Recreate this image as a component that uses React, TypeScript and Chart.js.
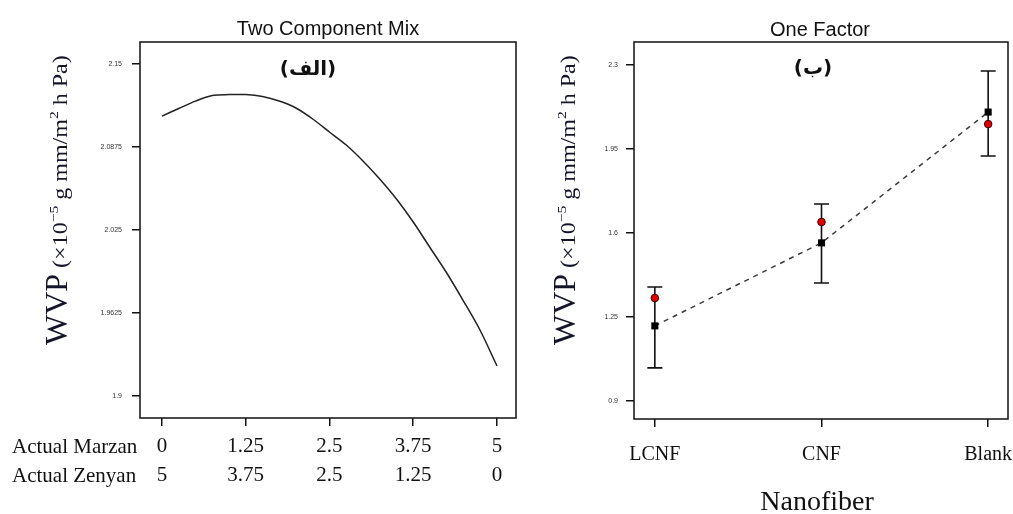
import React, { useEffect, useRef } from 'react';
import { Chart, registerables } from 'chart.js';

Chart.register(...registerables);

// ---------- Left panel: Two Component Mix ----------
const mixTitle = 'Two Component Mix';
const mixTag = '(الف)';
const marzanRowLabel = 'Actual Marzan';
const zenyanRowLabel = 'Actual Zenyan';
const marzanValues = [0, 0.25, 0.5, 0.75, 1, 1.25, 1.5, 1.75, 2, 2.25, 2.5, 2.75, 3, 3.25, 3.5, 3.75, 4, 4.25, 4.5, 4.75, 5];
const wvpMix = [2.1108, 2.1165, 2.1221, 2.1263, 2.1270, 2.1270, 2.1255, 2.1221, 2.1169, 2.1086, 2.0988, 2.0890, 2.0770, 2.0634, 2.0483, 2.0310, 2.0118, 1.9926, 1.9715, 1.9493, 1.9226];
const mixXTicks = [0, 1.25, 2.5, 3.75, 5];
const marzanTickLabels = ['0', '1.25', '2.5', '3.75', '5'];
const zenyanTickLabels = ['5', '3.75', '2.5', '1.25', '0'];
const mixYTicks = [1.9, 1.9625, 2.025, 2.0875, 2.15];
const mixYTickLabels = ['1.9', '1.9625', '2.025', '2.0875', '2.15'];

// ---------- Right panel: One Factor ----------
const factorTitle = 'One Factor';
const factorTag = '(ب)';
const factorXTitle = 'Nanofiber';
const nanofibers = ['LCNF', 'CNF', 'Blank'];
const predictedWvp = [1.212, 1.558, 2.103];
const actualWvp = [1.328, 1.645, 2.053];
const lowerWvp = [1.037, 1.391, 1.920];
const upperWvp = [1.374, 1.720, 2.274];
const factorYTicks = [0.9, 1.25, 1.6, 1.95, 2.3];
const factorYTickLabels = ['0.9', '1.25', '1.6', '1.95', '2.3'];

// y title pieces
const yTitleMain = 'WVP';
const yTitleParts = [' (×10', '−5', ' g mm/m', '2', ' h Pa)'];

const SERIF = '"Liberation Serif", "Times New Roman", serif';
const SANS = '"Liberation Sans", Arial, sans-serif';
const INK = '#111';

function drawYTitle(ctx: CanvasRenderingContext2D, baseX: number, startY: number) {
  const segs = [
    { t: yTitleParts[0], f: `20px ${SERIF}`, dy: 0 },
    { t: yTitleParts[1], f: `13px ${SERIF}`, dy: -9 },
    { t: yTitleParts[2], f: `20px ${SERIF}`, dy: 0 },
    { t: yTitleParts[3], f: `13px ${SERIF}`, dy: -9 },
    { t: yTitleParts[4], f: `20px ${SERIF}`, dy: 0 },
  ];
  ctx.save();
  ctx.translate(baseX, startY);
  ctx.rotate(-Math.PI / 2);
  ctx.fillStyle = '#15152a';
  ctx.textAlign = 'left';
  ctx.textBaseline = 'alphabetic';
  ctx.font = `32px ${SERIF}`;
  ctx.fillText(yTitleMain, 0, 0);
  const mainW = ctx.measureText(yTitleMain).width;
  ctx.translate(mainW, 0);
  ctx.scale(1.2, 1);
  let x = 0;
  for (const s of segs) {
    ctx.font = s.f;
    ctx.fillText(s.t, x, s.dy);
    x += ctx.measureText(s.t).width;
  }
  ctx.restore();
}

function boxAndTitle(ctx: CanvasRenderingContext2D, a: any, title: string, titleX: number, titleY: number, tag: string, tagX: number, tagY: number) {
  ctx.save();
  ctx.strokeStyle = INK;
  ctx.lineWidth = 1.5;
  ctx.strokeRect(a.left, a.top, a.right - a.left, a.bottom - a.top);
  ctx.fillStyle = INK;
  ctx.font = `20px ${SANS}`;
  ctx.textAlign = 'center';
  ctx.textBaseline = 'alphabetic';
  ctx.fillText(title, titleX, titleY);
  ctx.font = `bold 20px "DejaVu Sans", sans-serif`;
  ctx.textBaseline = 'middle';
  ctx.fillText(tag, tagX, tagY);
  ctx.restore();
}

export default function App() {
  const leftRef = useRef<HTMLCanvasElement>(null);
  const rightRef = useRef<HTMLCanvasElement>(null);

  useEffect(() => {
    if (!leftRef.current || !rightRef.current) return;

    const mixDecor = {
      id: 'mixDecor',
      afterDraw(chart: any) {
        const ctx = chart.ctx as CanvasRenderingContext2D;
        const a = chart.chartArea;
        boxAndTitle(ctx, a, mixTitle, 328, 35, mixTag, 308, 70);
        drawYTitle(ctx, 67, 345);
        ctx.save();
        ctx.fillStyle = INK;
        ctx.font = `21px ${SERIF}`;
        ctx.textAlign = 'left';
        ctx.textBaseline = 'alphabetic';
        ctx.fillText(marzanRowLabel, 12, 453);
        ctx.fillText(zenyanRowLabel, 12, 482);
        ctx.restore();
      },
    };

    const left = new Chart(leftRef.current, {
      type: 'scatter',
      data: {
        datasets: [
          {
            data: marzanValues.map((x, i) => ({ x, y: wvpMix[i] })),
            showLine: true,
            borderColor: '#222',
            borderWidth: 1.5,
            pointRadius: 0,
            tension: 0.3,
            fill: false,
          },
        ],
      },
      options: {
        responsive: false,
        animation: false,
        layout: { padding: { left: 0, right: 4, top: 42, bottom: 0 } },
        plugins: { legend: { display: false }, tooltip: { enabled: false }, title: { display: false } },
        scales: {
          x: {
            type: 'linear',
            min: -0.328,
            max: 5.284,
            afterBuildTicks: (s: any) => { s.ticks = mixXTicks.map((v) => ({ value: v })); },
            afterFit: (s: any) => { s.height = 96; s.paddingLeft = 0; s.paddingRight = 0; },
            grid: { drawOnChartArea: false, drawTicks: true, tickLength: 8, color: INK, lineWidth: 1.5 },
            border: { display: false },
            ticks: {
              autoSkip: false,
              maxRotation: 0,
              padding: 6,
              color: INK,
              font: { family: SERIF, size: 21, lineHeight: 1.38 },
              callback: (_v: any, i: number) => [marzanTickLabels[i], zenyanTickLabels[i]],
            },
          },
          y: {
            type: 'linear',
            min: 1.8834,
            max: 2.1666,
            afterBuildTicks: (s: any) => { s.ticks = mixYTicks.map((v) => ({ value: v })); },
            afterFit: (s: any) => { s.width = 140; s.paddingTop = 0; s.paddingBottom = 0; },
            grid: { drawOnChartArea: false, drawTicks: true, tickLength: 8, color: INK, lineWidth: 1.5 },
            border: { display: false },
            ticks: {
              autoSkip: false,
              padding: 10,
              color: '#333',
              font: { family: SANS, size: 7 },
              callback: (_v: any, i: number) => mixYTickLabels[i],
            },
          },
        },
      },
      plugins: [mixDecor],
    } as any);

    const factorDecor = {
      id: 'factorDecor',
      beforeDatasetsDraw(chart: any) {
        const ctx = chart.ctx as CanvasRenderingContext2D;
        const xs = chart.scales.x;
        const ys = chart.scales.y;
        ctx.save();
        ctx.strokeStyle = INK;
        ctx.lineWidth = 1.6;
        nanofibers.forEach((_n, i) => {
          const px = xs.getPixelForValue(i);
          const top = ys.getPixelForValue(upperWvp[i]);
          const bot = ys.getPixelForValue(lowerWvp[i]);
          ctx.beginPath();
          ctx.moveTo(px, top);
          ctx.lineTo(px, bot);
          ctx.moveTo(px - 7.5, top);
          ctx.lineTo(px + 7.5, top);
          ctx.moveTo(px - 7.5, bot);
          ctx.lineTo(px + 7.5, bot);
          ctx.stroke();
        });
        ctx.restore();
      },
      afterDraw(chart: any) {
        const ctx = chart.ctx as CanvasRenderingContext2D;
        const a = chart.chartArea;
        boxAndTitle(ctx, a, factorTitle, 300, 36, factorTag, 293, 69);
        drawYTitle(ctx, 55, 345);
        ctx.save();
        ctx.fillStyle = INK;
        ctx.font = `28px ${SERIF}`;
        ctx.textAlign = 'center';
        ctx.textBaseline = 'alphabetic';
        ctx.fillText(factorXTitle, 297, 510);
        ctx.restore();
      },
    };

    const right = new Chart(rightRef.current, {
      type: 'scatter',
      data: {
        datasets: [
          {
            data: actualWvp.map((y, i) => ({ x: i, y })),
            showLine: false,
            pointStyle: 'circle',
            pointRadius: 3.8,
            pointBackgroundColor: '#e00000',
            pointBorderColor: '#3a0000',
            pointBorderWidth: 1,
          },
          {
            data: predictedWvp.map((y, i) => ({ x: i, y })),
            showLine: true,
            borderColor: '#3a3a3a',
            borderWidth: 1.5,
            borderDash: [5, 5],
            pointStyle: 'rect',
            pointRadius: 5,
            pointBackgroundColor: '#000',
            pointBorderColor: '#000',
            pointBorderWidth: 0,
            fill: false,
          },
        ],
      },
      options: {
        responsive: false,
        animation: false,
        layout: { padding: { left: 0, right: 3, top: 42, bottom: 0 } },
        plugins: { legend: { display: false }, tooltip: { enabled: false }, title: { display: false } },
        scales: {
          x: {
            type: 'linear',
            min: -0.125,
            max: 2.119,
            afterBuildTicks: (s: any) => { s.ticks = nanofibers.map((_n, i) => ({ value: i })); },
            afterFit: (s: any) => { s.height = 95; s.paddingLeft = 0; s.paddingRight = 0; },
            grid: { drawOnChartArea: false, drawTicks: true, tickLength: 8, color: INK, lineWidth: 1.5 },
            border: { display: false },
            ticks: {
              autoSkip: false,
              maxRotation: 0,
              padding: 16,
              color: INK,
              font: { family: SERIF, size: 20, lineHeight: 1.2 },
              callback: (_v: any, i: number) => nanofibers[i],
            },
          },
          y: {
            type: 'linear',
            min: 0.824,
            max: 2.395,
            afterBuildTicks: (s: any) => { s.ticks = factorYTicks.map((v) => ({ value: v })); },
            afterFit: (s: any) => { s.width = 114; s.paddingTop = 0; s.paddingBottom = 0; },
            grid: { drawOnChartArea: false, drawTicks: true, tickLength: 8, color: INK, lineWidth: 1.5 },
            border: { display: false },
            ticks: {
              autoSkip: false,
              padding: 8,
              color: '#333',
              font: { family: SANS, size: 7 },
              callback: (_v: any, i: number) => factorYTickLabels[i],
            },
          },
        },
      },
      plugins: [factorDecor],
    } as any);

    return () => {
      left.destroy();
      right.destroy();
    };
  }, []);

  return (
    <div style={{ position: 'fixed', left: 0, top: 0, width: 1013, height: 514, background: '#fff' }}>
      <canvas ref={leftRef} width={520} height={514} style={{ position: 'absolute', left: 0, top: 0, width: 520, height: 514 }} />
      <canvas ref={rightRef} width={493} height={514} style={{ position: 'absolute', left: 520, top: 0, width: 493, height: 514 }} />
    </div>
  );
}
